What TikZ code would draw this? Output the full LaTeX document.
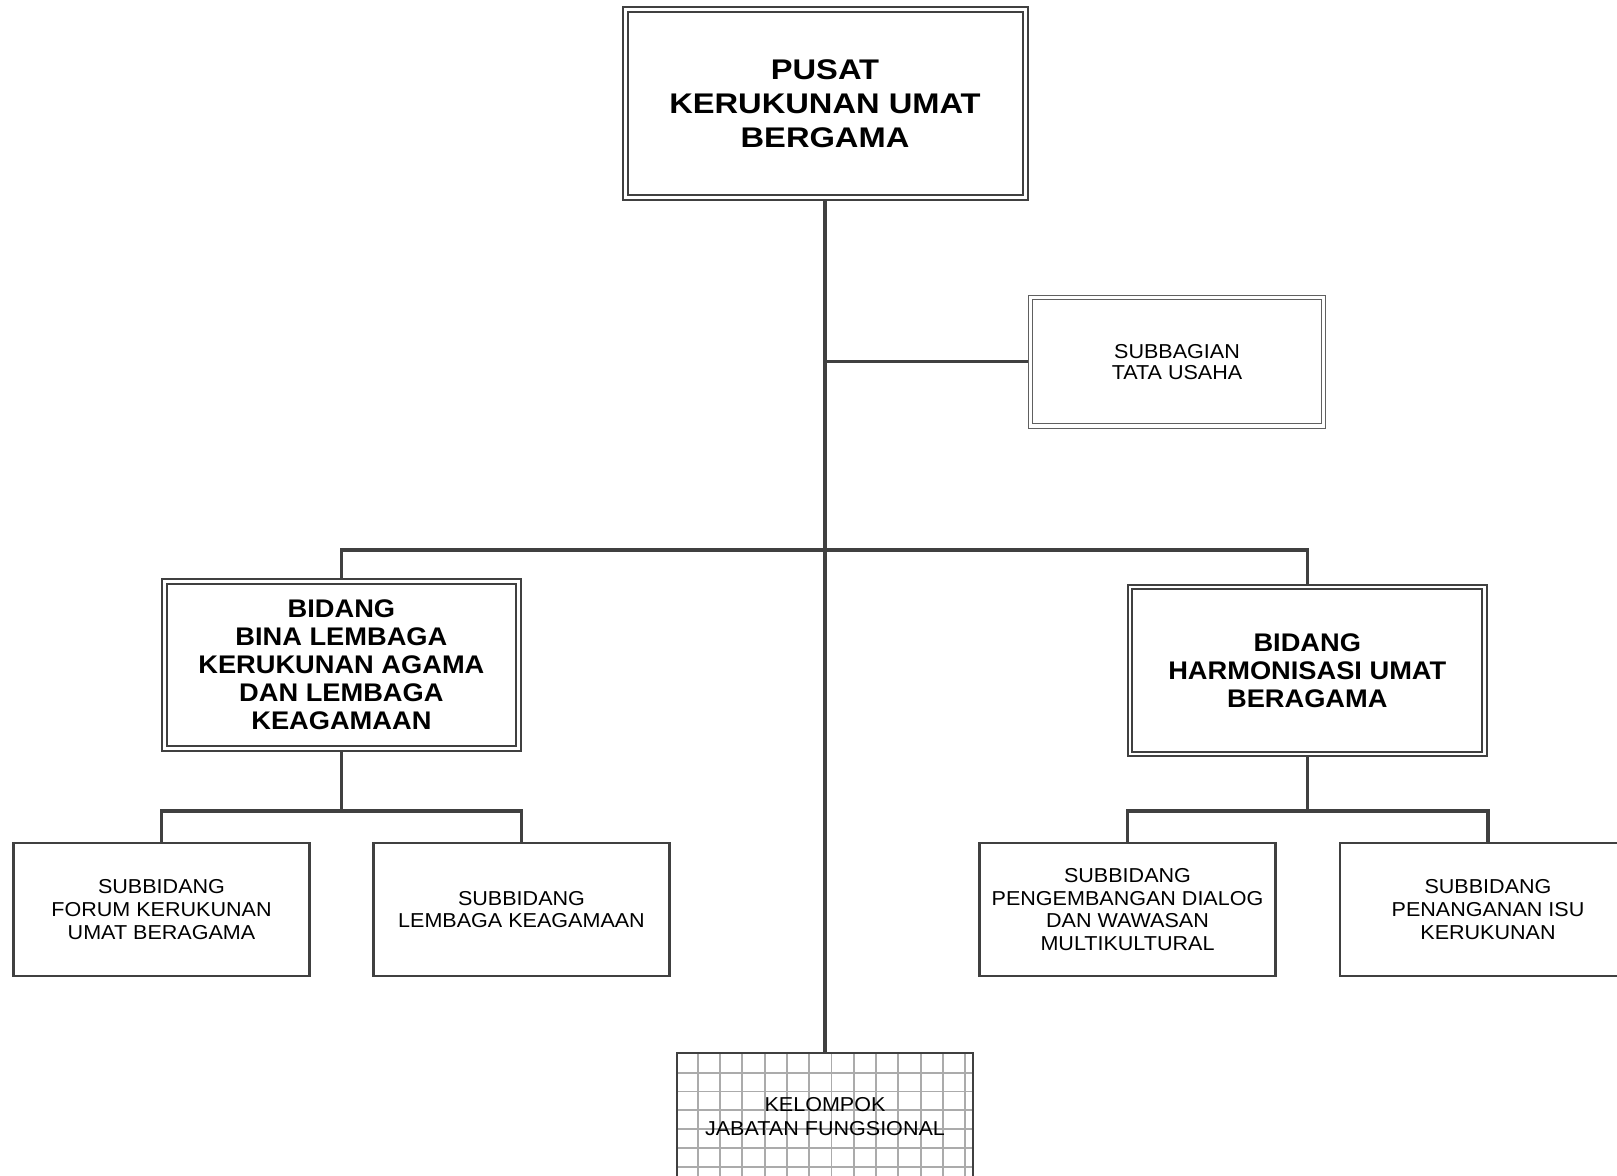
\documentclass[tikz,border=0pt]{standalone}
\usepackage{fontspec}
\setmainfont{Liberation Sans}[FakeStretch=1.07]
\newfontfamily\topfont{Liberation Sans}[FakeStretch=1.15]
\definecolor{ln}{HTML}{404040}
\definecolor{thinln}{HTML}{606060}
\definecolor{gridc}{HTML}{ABABAB}
\begin{document}
\begin{tikzpicture}[x=0.75pt,y=-0.75pt,
  sz/.style 2 args={minimum width=#1*0.75pt, minimum height=#2*0.75pt},
  dbl/.style={draw=ln, double=white, line width=1.5pt, double distance=2pt, outer sep=2.5pt, inner sep=0pt, align=center},
  topsty/.style={dbl, double distance=2.25pt, outer sep=2.6pt, font=\topfont\bfseries\fontsize{21.3}{25.5}\selectfont},
  bid/.style={dbl, font=\bfseries\fontsize{19.1}{21}\selectfont},
  tusty/.style={draw=thinln, double=white, line width=0.8pt, double distance=2.6pt, outer sep=2.1pt, inner sep=0pt, align=center, font=\fontsize{15.1}{16}\selectfont},
  subbox/.style={draw=ln, line width=1.8pt, inner sep=0pt, align=center, sz={296}{132.6}, font=\fontsize{15.1}{17}\selectfont},
  gridbox/.style={draw=ln, line width=1.6pt, inner sep=0pt, align=center, sz={296}{127}, font=\fontsize{15.1}{18}\selectfont,
    path picture={
      \foreach \k in {0,...,12}{
        \draw[gridc, line width=1.4pt] ([xshift={(20.7+\k*22.3)*0.75pt}]path picture bounding box.north west) -- ([xshift={(20.7+\k*22.3)*0.75pt}]path picture bounding box.south west);
      }
      \foreach \k in {0,...,5}{
        \draw[gridc, line width=1.4pt] ([yshift={-(19.7+\k*18.8)*0.75pt}]path picture bounding box.north west) -- ([yshift={-(19.7+\k*18.8)*0.75pt}]path picture bounding box.north east);
      }
    }},
  conn/.style={draw=ln, line width=2.5pt},
  trunk/.style={draw=ln, line width=3pt}
]
\path[use as bounding box] (0,0) rectangle (1617,1176);
\clip (0,0) rectangle (1617,1176);

% nodes
\node[topsty, sz={400}{188.3}] (top) at (825,103.85) {PUSAT\\KERUKUNAN UMAT\\BERGAMA};
\node[tusty, sz={293}{128.5}] (tu) at (1177,361.75) {SUBBAGIAN\\TATA USAHA};
\node[bid, sz={354.25}{166.5}] (bidL) at (341.4,665) {BIDANG\\BINA LEMBAGA\\KERUKUNAN AGAMA\\DAN LEMBAGA\\KEAGAMAAN};
\node[bid, sz={354.7}{167.3}] (bidR) at (1307.3,670.5) {BIDANG\\HARMONISASI UMAT\\BERAGAMA};
\node[subbox] (sL1) at (161.5,909.5) {SUBBIDANG\\FORUM KERUKUNAN\\UMAT BERAGAMA};
\node[subbox] (sL2) at (521.5,909.5) {SUBBIDANG\\LEMBAGA KEAGAMAAN};
\node[subbox] (sR1) at (1127.5,909.5) {SUBBIDANG\\PENGEMBANGAN DIALOG\\DAN WAWASAN\\MULTIKULTURAL};
\node[subbox] (sR2) at (1488,909.5) {SUBBIDANG\\PENANGANAN ISU\\KERUKUNAN};
\node[gridbox] (kel) at (825,1116.5) {KELOMPOK\\JABATAN FUNGSIONAL};

% connectors
\coordinate (bar) at (825,550);
\coordinate (jl) at (341.4,811);
\coordinate (jr) at (1307.3,811);
\draw[trunk] (top.south) -- (kel.north);
\draw[conn] (top.south |- tu.west) -- (tu.west);
\draw[conn] (bidL.north) |- (bar) -| (bidR.north);
\draw[conn] (bidL.south) -- (jl);
\draw[conn] (sL1.north) |- (jl) -| (sL2.north);
\draw[conn] (bidR.south) -- (jr);
\draw[conn] (sR1.north) |- (jr) -| (sR2.north);
\end{tikzpicture}
\end{document}
